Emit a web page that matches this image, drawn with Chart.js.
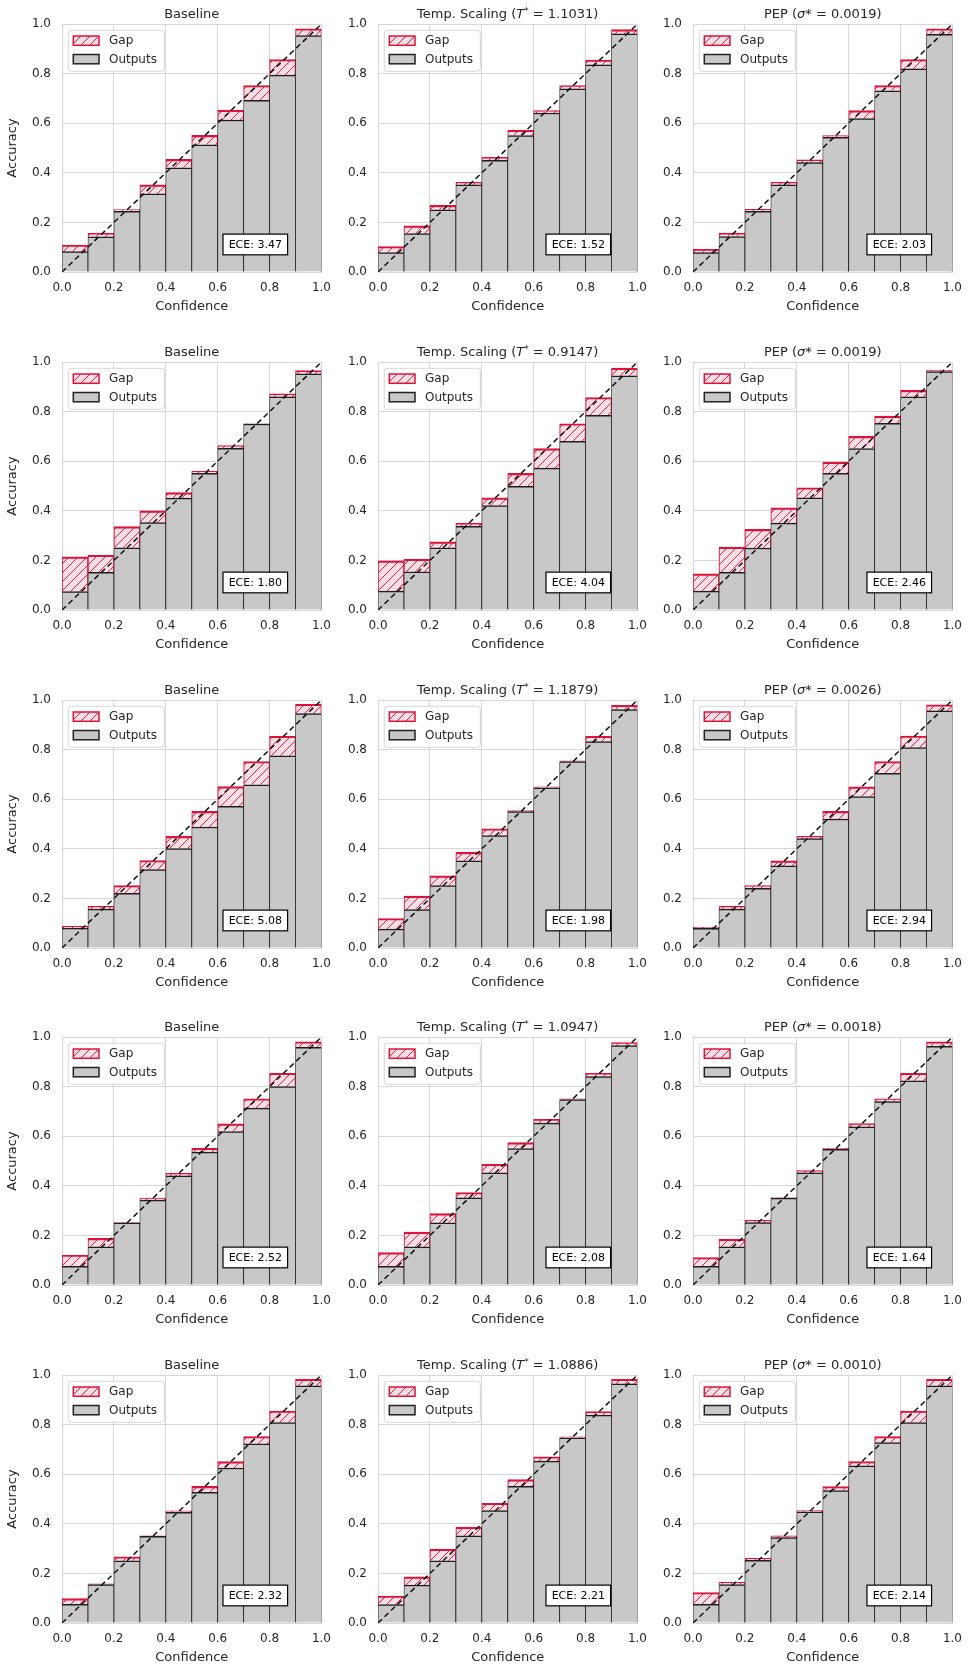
<!DOCTYPE html>
<html>
<head>
<meta charset="utf-8">
<script src="https://cdn.jsdelivr.net/npm/chart.js@4.4.0/dist/chart.umd.min.js"></script>
<style>
  html, body { margin: 0; padding: 0; background: #ffffff; }
  body { width: 971px; height: 1665px; position: relative; overflow: hidden; }
  canvas { position: absolute; }
</style>
</head>
<body>
<script>
// ---------------- data ----------------
const binCenters = [0.05, 0.15, 0.25, 0.35, 0.45, 0.55, 0.65, 0.75, 0.85, 0.95];
const axisTicks = [0, 0.2, 0.4, 0.6, 0.8, 1.0];
const diagonal = [0, 1];

const temperatures = ['1.1031', '0.9147', '1.1879', '1.0947', '1.0886'];
const sigmas = ['0.0019', '0.0019', '0.0026', '0.0018', '0.0010'];
const eceBaseline = ['3.47', '1.80', '5.08', '2.52', '2.32'];
const eceTemp = ['1.52', '4.04', '1.98', '2.08', '2.21'];
const ecePep = ['2.03', '2.46', '2.94', '1.64', '2.14'];

// row 1
const r1BaselineOutputs = [0.082, 0.142, 0.245, 0.315, 0.420, 0.513, 0.613, 0.692, 0.794, 0.953];
const r1BaselineGap     = [0.109, 0.157, 0.252, 0.351, 0.454, 0.551, 0.653, 0.752, 0.857, 0.981];
const r1TempOutputs     = [0.078, 0.155, 0.251, 0.351, 0.450, 0.550, 0.641, 0.739, 0.835, 0.960];
const r1TempGap         = [0.103, 0.186, 0.269, 0.362, 0.462, 0.572, 0.651, 0.752, 0.855, 0.977];
const r1PepOutputs      = [0.078, 0.143, 0.245, 0.351, 0.441, 0.543, 0.619, 0.731, 0.819, 0.958];
const r1PepGap          = [0.091, 0.157, 0.253, 0.362, 0.452, 0.550, 0.651, 0.752, 0.857, 0.981];
// row 2
const r2BaselineOutputs = [0.074, 0.152, 0.251, 0.352, 0.451, 0.551, 0.652, 0.750, 0.860, 0.952];
const r2BaselineGap     = [0.214, 0.221, 0.336, 0.400, 0.473, 0.560, 0.663, 0.751, 0.872, 0.965];
const r2TempOutputs     = [0.076, 0.154, 0.251, 0.337, 0.421, 0.499, 0.572, 0.680, 0.785, 0.944];
const r2TempGap         = [0.198, 0.205, 0.275, 0.350, 0.452, 0.551, 0.651, 0.751, 0.857, 0.975];
const r2PepOutputs      = [0.076, 0.152, 0.250, 0.350, 0.452, 0.551, 0.651, 0.753, 0.860, 0.961];
const r2PepGap          = [0.146, 0.254, 0.325, 0.412, 0.493, 0.596, 0.700, 0.782, 0.886, 0.967];
// row 3
const r3BaselineOutputs = [0.080, 0.157, 0.220, 0.316, 0.401, 0.488, 0.571, 0.658, 0.775, 0.945];
const r3BaselineGap     = [0.087, 0.168, 0.252, 0.353, 0.450, 0.551, 0.651, 0.752, 0.854, 0.983];
const r3TempOutputs     = [0.076, 0.155, 0.252, 0.351, 0.453, 0.550, 0.646, 0.752, 0.832, 0.961];
const r3TempGap         = [0.119, 0.209, 0.291, 0.386, 0.481, 0.554, 0.650, 0.755, 0.854, 0.979];
const r3PepOutputs      = [0.079, 0.157, 0.241, 0.331, 0.441, 0.520, 0.611, 0.704, 0.808, 0.956];
const r3PepGap          = [0.083, 0.169, 0.252, 0.351, 0.450, 0.551, 0.650, 0.752, 0.855, 0.981];
// row 4
const r4BaselineOutputs = [0.075, 0.154, 0.251, 0.342, 0.440, 0.536, 0.619, 0.713, 0.800, 0.958];
const r4BaselineGap     = [0.121, 0.188, 0.253, 0.350, 0.450, 0.551, 0.650, 0.751, 0.854, 0.981];
const r4TempOutputs     = [0.075, 0.154, 0.251, 0.351, 0.452, 0.550, 0.653, 0.748, 0.840, 0.965];
const r4TempGap         = [0.131, 0.213, 0.288, 0.373, 0.487, 0.574, 0.668, 0.751, 0.854, 0.977];
const r4PepOutputs      = [0.075, 0.154, 0.252, 0.350, 0.452, 0.547, 0.638, 0.740, 0.823, 0.962];
const r4PepGap          = [0.111, 0.185, 0.261, 0.353, 0.461, 0.551, 0.651, 0.751, 0.854, 0.981];
// row 5
const r5BaselineOutputs = [0.075, 0.155, 0.251, 0.349, 0.446, 0.527, 0.625, 0.722, 0.808, 0.956];
const r5BaselineGap     = [0.098, 0.158, 0.267, 0.351, 0.452, 0.551, 0.651, 0.752, 0.855, 0.983];
const r5TempOutputs     = [0.074, 0.153, 0.251, 0.351, 0.453, 0.551, 0.653, 0.747, 0.838, 0.964];
const r5TempGap         = [0.109, 0.186, 0.298, 0.387, 0.483, 0.578, 0.670, 0.751, 0.853, 0.983];
const r5PepOutputs      = [0.075, 0.155, 0.253, 0.344, 0.448, 0.534, 0.634, 0.727, 0.808, 0.956];
const r5PepGap          = [0.123, 0.164, 0.261, 0.351, 0.453, 0.550, 0.651, 0.752, 0.855, 0.983];

// ---------------- panels table built from the arrays ----------------
const outputsByRow = [
  [r1BaselineOutputs, r1TempOutputs, r1PepOutputs],
  [r2BaselineOutputs, r2TempOutputs, r2PepOutputs],
  [r3BaselineOutputs, r3TempOutputs, r3PepOutputs],
  [r4BaselineOutputs, r4TempOutputs, r4PepOutputs],
  [r5BaselineOutputs, r5TempOutputs, r5PepOutputs]
];
const gapsByRow = [
  [r1BaselineGap, r1TempGap, r1PepGap],
  [r2BaselineGap, r2TempGap, r2PepGap],
  [r3BaselineGap, r3TempGap, r3PepGap],
  [r4BaselineGap, r4TempGap, r4PepGap],
  [r5BaselineGap, r5TempGap, r5PepGap]
];

// ---------------- styles ----------------
const FONT = "'DejaVu Sans', 'Liberation Sans', sans-serif";
const TEXT = '#262626';
const GRID = '#d6d6d6';
const RED = '#dc143c';
const GREY = '#c8c8c8';
Chart.defaults.font.family = FONT;

const hatchTile = (() => {
  const c = document.createElement('canvas');
  c.width = 9; c.height = 9;
  const g = c.getContext('2d');
  g.fillStyle = 'rgb(245,222,228)';
  g.fillRect(0, 0, 9, 9);
  g.strokeStyle = 'rgba(226,24,64,0.95)';
  g.lineWidth = 1;
  g.beginPath();
  g.moveTo(-1, 10); g.lineTo(10, -1);
  g.moveTo(-1, 1); g.lineTo(1, -1);
  g.moveTo(8, 10); g.lineTo(10, 8);
  g.stroke();
  return c;
})();
const patternCache = new WeakMap();
function hatchFor(chart) {
  if (!patternCache.has(chart)) patternCache.set(chart, chart.ctx.createPattern(hatchTile, 'repeat'));
  return patternCache.get(chart);
}

function drawParts(ctx, parts, cx, baseY) {
  let total = 0;
  parts.forEach(p => { ctx.font = p.font; p.w = ctx.measureText(p.text).width; total += p.w; });
  let x = cx - total / 2;
  ctx.textAlign = 'left';
  ctx.textBaseline = 'alphabetic';
  ctx.fillStyle = TEXT;
  parts.forEach(p => { ctx.font = p.font; ctx.fillText(p.text, x, baseY + (p.dy || 0)); x += p.w; });
}

const panelDecor = {
  id: 'panelDecor',
  afterDatasetsDraw(chart, args, opts) {
    const ctx = chart.ctx;
    const a = chart.chartArea;
    ctx.save();
    // legend
    const lx = a.left + 6.3, ly = a.top + 6.3;
    ctx.beginPath();
    ctx.roundRect(lx, ly, 96, 41, 3);
    ctx.fillStyle = 'rgba(255,255,255,0.85)';
    ctx.fill();
    ctx.strokeStyle = '#d6d6d6';
    ctx.lineWidth = 1;
    ctx.stroke();
    // gap swatch
    ctx.fillStyle = hatchFor(chart);
    ctx.fillRect(a.left + 11.3, a.top + 12, 25.7, 9.3);
    ctx.strokeStyle = RED; ctx.lineWidth = 1.5;
    ctx.strokeRect(a.left + 11.3, a.top + 12, 25.7, 9.3);
    // outputs swatch
    ctx.fillStyle = GREY;
    ctx.fillRect(a.left + 11.3, a.top + 30.5, 25.7, 9.3);
    ctx.strokeStyle = '#222'; ctx.lineWidth = 1.5;
    ctx.strokeRect(a.left + 11.3, a.top + 30.5, 25.7, 9.3);
    ctx.fillStyle = TEXT;
    ctx.font = '12px ' + FONT;
    ctx.textAlign = 'left';
    ctx.textBaseline = 'middle';
    ctx.fillText('Gap', a.left + 47, a.top + 16.6);
    ctx.fillText('Outputs', a.left + 47, a.top + 35.4);
    // ECE box
    const xs = chart.scales.x, ys = chart.scales.y;
    const cx = xs.getPixelForValue(opts.eceX);
    const cy = ys.getPixelForValue(0.111);
    const bw = 64.6, bh = 20.7;
    ctx.fillStyle = '#ffffff';
    ctx.fillRect(cx - bw / 2, cy - bh / 2, bw, bh);
    ctx.strokeStyle = '#000'; ctx.lineWidth = 1.2;
    ctx.strokeRect(cx - bw / 2, cy - bh / 2, bw, bh);
    ctx.fillStyle = '#000';
    ctx.font = '11px ' + FONT;
    ctx.textAlign = 'center';
    ctx.fillText('ECE: ' + opts.ece, cx, cy + 0.5);
    ctx.restore();
  },
  afterDraw(chart, args, opts) {
    const ctx = chart.ctx;
    const a = chart.chartArea;
    ctx.save();
    drawParts(ctx, opts.title, (a.left + a.right) / 2, a.top - 6);
    ctx.restore();
  }
};

function titleFor(col, row) {
  const n = '13px ' + FONT;
  const it = 'italic 13px ' + FONT;
  if (col === 0) return [{ text: 'Baseline', font: n }];
  if (col === 1) return [
    { text: 'Temp. Scaling (', font: n },
    { text: 'T', font: it },
    { text: '*', font: '9px ' + FONT, dy: -4 },
    { text: ' = ' + temperatures[row] + ')', font: n }
  ];
  return [
    { text: 'PEP (', font: n },
    { text: 'σ', font: it },
    { text: '*', font: n },
    { text: ' = ' + sigmas[row] + ')', font: n }
  ];
}

function axisCommon(extra) {
  return Object.assign({
    type: 'linear', min: 0, max: 1,
    afterBuildTicks: s => { s.ticks = axisTicks.map(v => ({ value: v })); },
    grid: { color: GRID, lineWidth: 1, drawTicks: false, offset: false },
    border: { display: true, color: GRID, width: 1 }
  }, extra);
}

const colLefts = [62, 377.5, 692.5];
const rowTops = [23.7, 361.6, 699.5, 1037.4, 1375.3];
const eceXs = [0.745, 0.772, 0.795];
const eceByCol = [eceBaseline, eceTemp, ecePep];

for (let r = 0; r < 5; r++) {
  for (let c = 0; c < 3; c++) {
    const cv = document.createElement('canvas');
    cv.width = 340; cv.height = 338;
    cv.style.width = '340px'; cv.style.height = '338px';
    cv.style.left = Math.round(colLefts[c] - 62) + 'px';
    cv.style.top = Math.round(rowTops[r] - 24) + 'px';
    document.body.appendChild(cv);
    const outs = outputsByRow[r][c];
    const gaps = gapsByRow[r][c];
    new Chart(cv, {
      type: 'bar',
      data: {
        datasets: [
          {
            type: 'line', label: 'diagonal',
            data: diagonal.map(v => ({ x: v, y: v })),
            borderColor: '#111', borderWidth: 1.5, borderDash: [5.5, 3.5],
            pointRadius: 0, fill: false, tension: 0
          },
          {
            label: 'Outputs',
            data: binCenters.map((x, i) => ({ x: x, y: outs[i] })),
            backgroundColor: GREY, borderColor: '#1e1e1e',
            borderWidth: { top: 1.5, left: 0.8, right: 0.8, bottom: 0 },
            grouped: false, barPercentage: 1, categoryPercentage: 1
          },
          {
            label: 'Gap',
            data: binCenters.map((x, i) => ({ x: x, y: [outs[i], gaps[i]] })),
            backgroundColor: ctx => hatchFor(ctx.chart), borderColor: RED,
            borderWidth: { top: 2.2, left: 1.1, right: 1.1, bottom: 0 },
            borderSkipped: 'start',
            grouped: false, barPercentage: 1, categoryPercentage: 1
          }
        ]
      },
      options: {
        responsive: false,
        animation: false,
        devicePixelRatio: 1,
        events: [],
        layout: { padding: { left: 0, top: 24, right: 15, bottom: 24 } },
        plugins: {
          legend: { display: false },
          tooltip: { enabled: false },
          panelDecor: { title: titleFor(c, r), ece: eceByCol[c][r], eceX: eceXs[c] }
        },
        scales: {
          x: axisCommon({
            offset: false,
            afterFit: s => { s.height = 42; },
            ticks: { padding: 9, color: TEXT, font: { size: 12 }, maxRotation: 0, autoSkip: false,
                     callback: v => Number(v).toFixed(1) },
            title: { display: true, text: 'Confidence', color: TEXT, font: { size: 13 }, padding: { top: 0, bottom: 0 } }
          }),
          y: axisCommon({
            afterFit: s => { s.width = 62; },
            ticks: { padding: 11, color: TEXT, font: { size: 12 }, autoSkip: false,
                     callback: v => Number(v).toFixed(1) },
            title: { display: c === 0, text: 'Accuracy', color: TEXT, font: { size: 13 }, padding: { top: 5, bottom: 0 } }
          })
        }
      },
      plugins: [panelDecor]
    });
  }
}
</script>
</body>
</html>
